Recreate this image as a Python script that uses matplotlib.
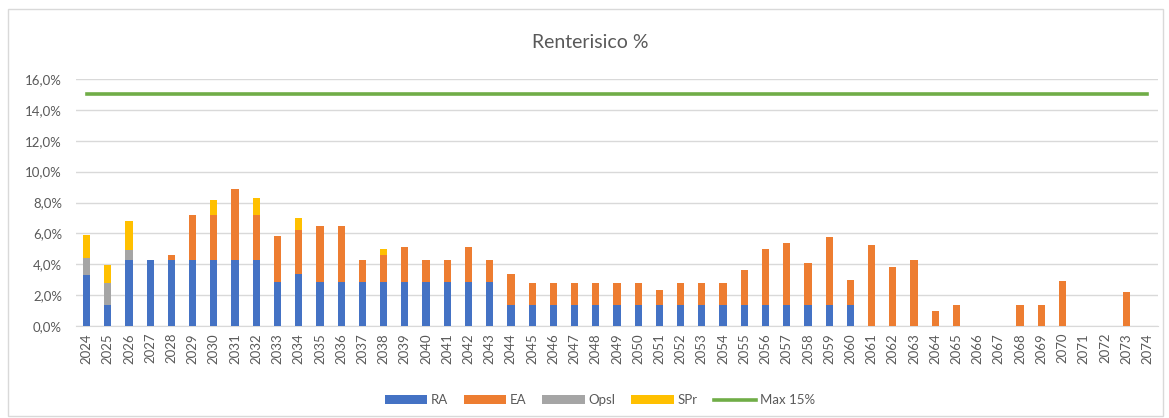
import numpy as np
import matplotlib
matplotlib.use('Agg')
import matplotlib.pyplot as plt
from matplotlib.ticker import FuncFormatter

# values in %
years = [str(y) for y in range(2024, 2075)]
ra = [3.3, 1.34, 4.26, 4.26, 4.26, 4.26, 4.26, 4.26, 4.26, 2.88,
      3.35, 2.88, 2.88, 2.88, 2.88, 2.88, 2.88, 2.88, 2.88, 2.88,
      1.34, 1.34, 1.34, 1.34, 1.34, 1.34, 1.34, 1.34, 1.34, 1.34,
      1.34, 1.34, 1.34, 1.34, 1.34, 1.34, 1.34, 0, 0, 0,
      0, 0, 0, 0, 0, 0, 0, 0, 0, 0, 0]
ea = [0, 0, 0, 0, 0.37, 2.94, 2.94, 4.61, 2.94, 2.94,
      2.9, 3.62, 3.62, 1.4, 1.72, 2.22, 1.4, 1.4, 2.22, 1.4,
      2.01, 1.45, 1.45, 1.45, 1.45, 1.45, 1.45, 1.02, 1.45, 1.45,
      1.45, 2.32, 3.68, 4.07, 2.75, 4.42, 1.65, 5.28, 3.83, 4.28,
      0.97, 1.34, 0, 0, 1.34, 1.34, 2.9, 0, 0, 2.19, 0]
opsl = [1.1, 1.43, 0.64] + [0] * 48
spr = [1.5, 1.21, 1.9, 0, 0, 0, 0.96, 0, 1.1, 0,
       0.75, 0, 0, 0, 0.42] + [0] * 36
max_line = [15.0] * len(years)

series_names = ['RA', 'EA', 'Opsl', 'SPr']
colors = ['#4472C4', '#ED7D31', '#A5A5A5', '#FFC000']
line_color = '#70AD47'
text_color = '#595959'

plt.rcParams['font.family'] = ['Lato', 'DejaVu Sans']

fig = plt.figure(figsize=(11.69, 4.18), dpi=100)
ax = fig.add_axes([0.065, 0.22, 0.9256, 0.591])

x = np.arange(len(years))
bottom = np.zeros(len(years))
handles = []
for name, vals, col in zip(series_names, [ra, ea, opsl, spr], colors):
    vals = np.array(vals, dtype=float)
    h = ax.bar(x, vals, width=0.34, bottom=bottom, color=col, label=name, zorder=3)
    handles.append(h)
    bottom += vals
ln, = ax.plot(x, max_line, color=line_color, linewidth=2.6, label='Max 15%', zorder=4)
handles.append(ln)

ax.set_xlim(-0.5, len(years) - 0.5)
ax.set_ylim(0, 16)
ax.set_yticks(np.arange(0, 17, 2))
ax.yaxis.set_major_formatter(FuncFormatter(lambda v, p: f'{v:.1f}%'.replace('.', ',')))
ax.set_xticks(x)
ax.set_xticklabels(years, rotation=90)
ax.tick_params(axis='both', length=0, labelsize=9.5, colors=text_color)
ax.tick_params(axis='y', pad=10)
ax.tick_params(axis='x', pad=5)
ax.grid(axis='y', color='#D9D9D9', linewidth=1, zorder=0)
for s in ['top', 'right', 'left']:
    ax.spines[s].set_visible(False)
ax.spines['bottom'].set_color('#D9D9D9')

fig.text(0.505, 0.898, 'Renterisico %', ha='center', va='center', fontsize=14, color=text_color)

leg = fig.legend(handles=handles, loc='center', bbox_to_anchor=(0.513, 0.043), ncol=5,
                 frameon=False, fontsize=9.5, handlelength=3.2, handleheight=0.6,
                 columnspacing=1.2, handletextpad=0.3)
for t in leg.get_texts():
    t.set_color(text_color)

# chart border
fig.patches.append(plt.Rectangle((0.007, 0.005), 0.988, 0.973, transform=fig.transFigure,
                                 fill=False, edgecolor='#D9D9D9', linewidth=1))

fig.savefig('out.png', dpi=100)
